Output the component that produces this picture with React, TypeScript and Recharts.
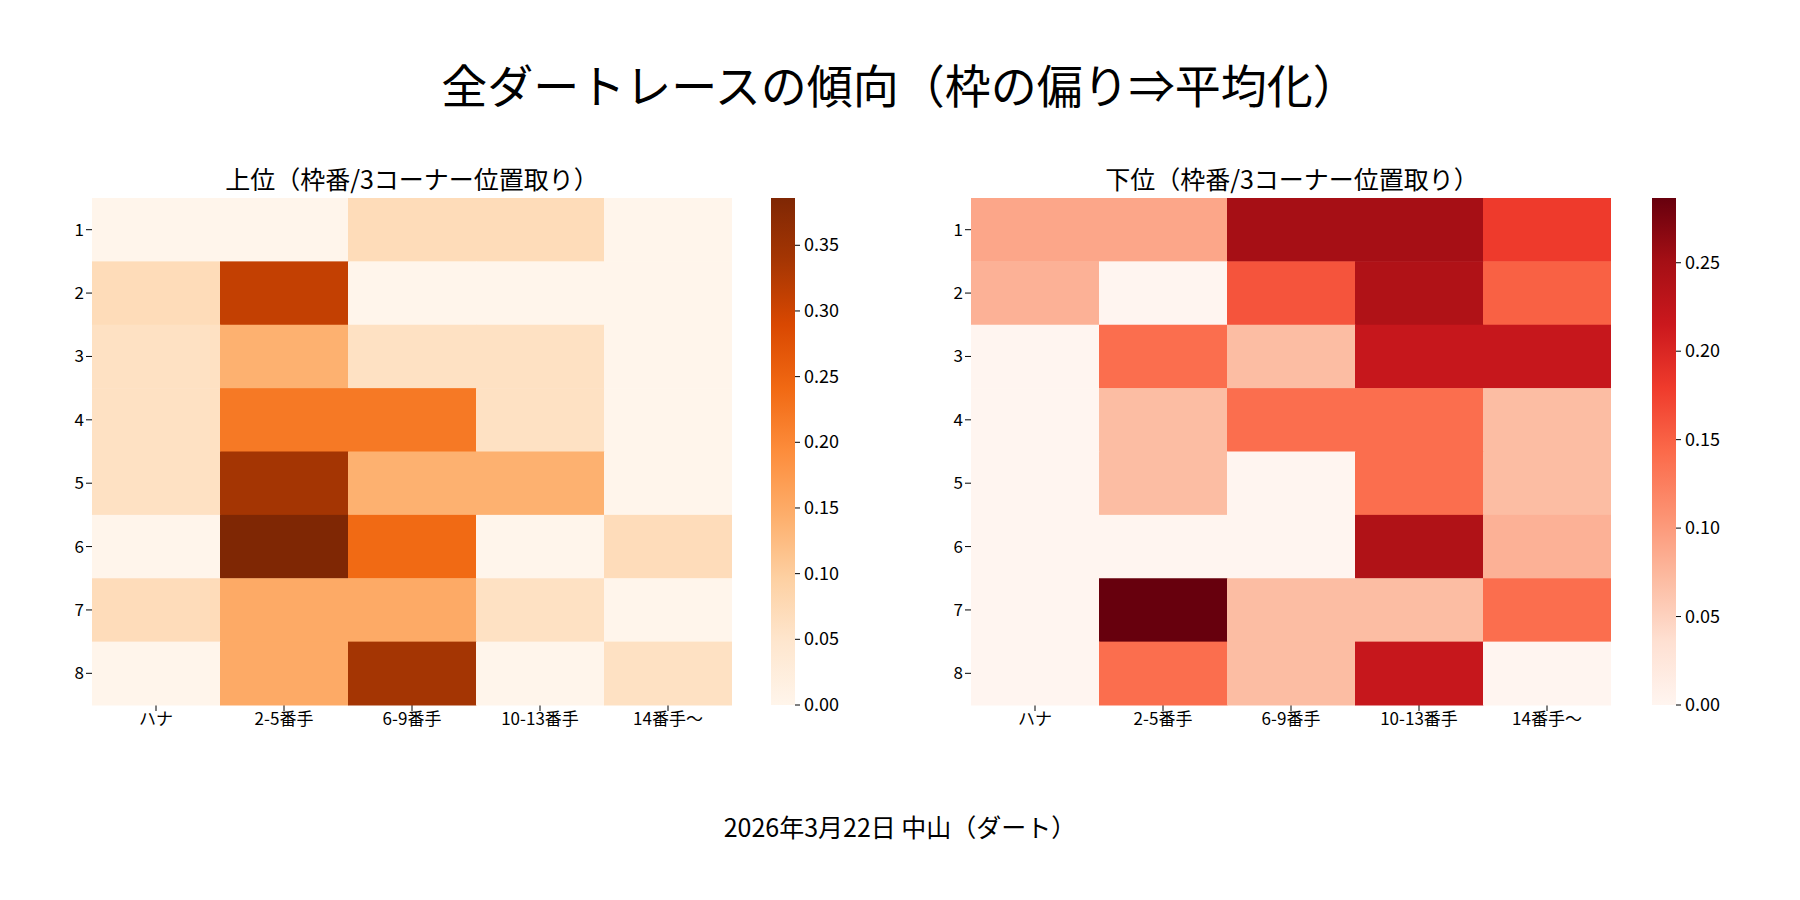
import { ScatterChart, Scatter, XAxis, YAxis } from "recharts";

const cols = ["ハナ", "2-5番手", "6-9番手", "10-13番手", "14番手〜"];
const rows = ["1", "2", "3", "4", "5", "6", "7", "8"];

const topValues = [
  [0, 0, 0.071, 0.071, 0],
  [0.071, 0.31, 0, 0, 0],
  [0.06, 0.14, 0.06, 0.06, 0],
  [0.06, 0.22, 0.22, 0.06, 0],
  [0.06, 0.34, 0.14, 0.14, 0],
  [0, 0.386, 0.24, 0, 0.07],
  [0.07, 0.15, 0.15, 0.06, 0],
  [0, 0.15, 0.34, 0, 0.06],
];
const bottomValues = [
  [0.09, 0.09, 0.25, 0.25, 0.18],
  [0.08, 0, 0.16, 0.24, 0.15],
  [0, 0.14, 0.07, 0.22, 0.22],
  [0, 0.07, 0.14, 0.14, 0.07],
  [0, 0.07, 0, 0.14, 0.07],
  [0, 0, 0, 0.24, 0.08],
  [0, 0.2866, 0.07, 0.07, 0.14],
  [0, 0.14, 0.07, 0.22, 0],
];
const topMax = 0.386;
const bottomMax = 0.2866;
const topTicks = [0, 0.05, 0.1, 0.15, 0.2, 0.25, 0.3, 0.35];
const bottomTicks = [0, 0.05, 0.1, 0.15, 0.2, 0.25];

const oranges = ["#fff5eb", "#fee6ce", "#fdd0a2", "#fdae6b", "#fd8d3c", "#f16913", "#d94801", "#a63603", "#7f2704"];
const reds = ["#fff5f0", "#fee0d2", "#fcbba1", "#fc9272", "#fb6a4a", "#ef3b2c", "#cb181d", "#a50f15", "#67000d"];

const FONT = "'Noto Sans CJK JP', 'DejaVu Sans', sans-serif";
const PW = 640;
const PH = 507;
const YW = 40;

function hex(c: string) {
  return [1, 3, 5].map((i) => parseInt(c.slice(i, i + 2), 16));
}
function colorAt(stops: string[], t: number) {
  t = Math.max(0, Math.min(1, t));
  const p = t * (stops.length - 1);
  const i = Math.min(Math.floor(p), stops.length - 2);
  const f = p - i;
  const a = hex(stops[i]);
  const b = hex(stops[i + 1]);
  const m = a.map((v, k) => Math.round(v + (b[k] - v) * f));
  return `rgb(${m[0]},${m[1]},${m[2]})`;
}

function Heatmap({ values, vmax, stops }: { values: number[][]; vmax: number; stops: string[] }) {
  const data = values.flatMap((r, ri) => r.map((v, ci) => ({ x: ci + 0.5, y: ri + 0.5, v })));
  const cw = PW / cols.length;
  const ch = PH / rows.length;
  return (
    <ScatterChart width={PW + YW} height={PH + 40} margin={{ top: 0, right: 0, bottom: 0, left: 0 }}>
      <XAxis
        type="number"
        dataKey="x"
        domain={[0, 5]}
        ticks={[0.5, 1.5, 2.5, 3.5, 4.5]}
        tickFormatter={(v: number) => cols[Math.floor(v)]}
        axisLine={false}
        tickLine={{ stroke: "#000" }}
        height={40}
        tick={{ fill: "#000", fontSize: 17, fontFamily: FONT }}
      />
      <YAxis
        type="number"
        dataKey="y"
        domain={[0, 8]}
        reversed
        ticks={[0.5, 1.5, 2.5, 3.5, 4.5, 5.5, 6.5, 7.5]}
        tickFormatter={(v: number) => rows[Math.floor(v)]}
        axisLine={false}
        tickLine={{ stroke: "#000" }}
        width={YW}
        tick={{ fill: "#000", fontSize: 17, fontFamily: FONT }}
      />
      <Scatter
        data={data}
        isAnimationActive={false}
        shape={(p: any) => (
          <rect
            x={p.cx - cw / 2}
            y={p.cy - ch / 2}
            width={cw + 0.5}
            height={ch + 0.5}
            fill={colorAt(stops, p.payload.v / vmax)}
          />
        )}
      />
    </ScatterChart>
  );
}

function ColorBar({ vmax, stops, ticks, id }: { vmax: number; stops: string[]; ticks: number[]; id: string }) {
  const w = 24;
  return (
    <svg width={100} height={PH + 20} style={{ overflow: "visible" }}>
      <defs>
        <linearGradient id={id} x1="0" y1="1" x2="0" y2="0">
          {stops.map((c, i) => (
            <stop key={i} offset={i / (stops.length - 1)} stopColor={c} />
          ))}
        </linearGradient>
      </defs>
      <rect x={0} y={0} width={w} height={PH} fill={`url(#${id})`} />
      {ticks.map((t) => {
        const y = PH - (t / vmax) * PH;
        return (
          <g key={t}>
            <line x1={w} x2={w + 5} y1={y} y2={y} stroke="#000" />
            <text x={w + 9} y={y + 6} fontSize={18} fontFamily={FONT}>
              {t.toFixed(2)}
            </text>
          </g>
        );
      })}
    </svg>
  );
}

export default function App() {
  const title = { position: "absolute" as const, fontFamily: FONT, color: "#000", whiteSpace: "nowrap" as const, transform: "translateX(-50%)" };
  return (
    <div style={{ position: "relative", width: 1784, height: 884, background: "#fff", fontFamily: FONT }}>
      <div style={{ ...title, left: 892, top: 42, fontSize: 46 }}>全ダートレースの傾向（枠の偏り⇒平均化）</div>
      <div style={{ ...title, left: 404, top: 152, fontSize: 25 }}>上位（枠番/3コーナー位置取り）</div>
      <div style={{ ...title, left: 1284, top: 152, fontSize: 25 }}>下位（枠番/3コーナー位置取り）</div>
      <div style={{ position: "absolute", left: 92 - 8 - YW, top: 198 - 8 }}>
        <Heatmap values={topValues} vmax={topMax} stops={oranges} />
      </div>
      <div style={{ position: "absolute", left: 771 - 8, top: 198 - 8 }}>
        <ColorBar vmax={topMax} stops={oranges} ticks={topTicks} id="gTop" />
      </div>
      <div style={{ position: "absolute", left: 971 - 8 - YW, top: 198 - 8 }}>
        <Heatmap values={bottomValues} vmax={bottomMax} stops={reds} />
      </div>
      <div style={{ position: "absolute", left: 1652 - 8, top: 198 - 8 }}>
        <ColorBar vmax={bottomMax} stops={reds} ticks={bottomTicks} id="gBot" />
      </div>
      <div style={{ ...title, left: 892, top: 800, fontSize: 25 }}>2026年3月22日 中山（ダート）</div>
    </div>
  );
}
